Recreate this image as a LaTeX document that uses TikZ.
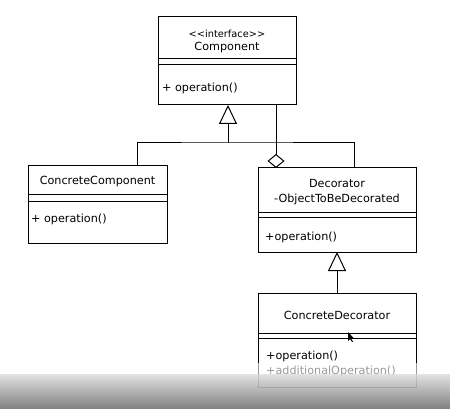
\documentclass[tikz,border=0pt]{standalone}
\usepackage{fontspec}
\setmainfont{DejaVu Sans}
\usetikzlibrary{arrows.meta}
\tikzset{
    classbox/.style={draw, line width=1pt, inner sep=0pt, outer sep=0pt, fill=white},
    txt/.style={font=\fontsize{11.2}{13}\selectfont, inner sep=0pt},
    stereo/.style={font=\fontsize{9.8}{11}\selectfont, inner sep=0pt},
    gen/.style={line width=1pt, -{Triangle[open, length=19pt, width=18pt, line width=1pt]}},
    agg/.style={line width=1pt, -{Diamond[open, length=14pt, width=17pt, line width=1pt]}}
}
\begin{document}
\begin{tikzpicture}[x=1pt, y=-1pt]
    \useasboundingbox[fill=white] (0,0) rectangle (450,409);

    % Component (interface)
    \node[classbox, minimum width=138, minimum height=88] (comp) at (227,61) {};
    \draw[line width=1pt] ([yshift=-42pt]comp.north west) -- ([yshift=-42pt]comp.north east);
    \draw[line width=1pt] ([yshift=-48pt]comp.north west) -- ([yshift=-48pt]comp.north east);
    \node[stereo] (compstereo) at (227,34) {{<}{<}interface{>}{>}};
    \node[txt] (compname) at (227,48) {Component};
    \node[txt, anchor=west] (compop) at (162,88) {+ operation()};

    % ConcreteComponent
    \node[classbox, minimum width=139, minimum height=77] (ccomp) at (97.5,204.5) {};
    \draw[line width=1pt] ([yshift=-29pt]ccomp.north west) -- ([yshift=-29pt]ccomp.north east);
    \draw[line width=1pt] ([yshift=-35pt]ccomp.north west) -- ([yshift=-35pt]ccomp.north east);
    \node[txt] (ccompname) at (97.5,182) {ConcreteComponent};
    \node[txt, anchor=west] (ccompop) at (31,219) {+ operation()};

    % Decorator
    \node[classbox, minimum width=158, minimum height=84] (deco) at (337,210) {};
    \draw[line width=1pt] ([yshift=-44pt]deco.north west) -- ([yshift=-44pt]deco.north east);
    \draw[line width=1pt] ([yshift=-49pt]deco.north west) -- ([yshift=-49pt]deco.north east);
    \node[txt] (deconame) at (337,183) {Decorator};
    \node[txt] (decoattr) at (337,199) {-ObjectToBeDecorated};
    \node[txt, anchor=west] (decoop) at (265,237) {+operation()};

    % ConcreteDecorator
    \node[classbox, minimum width=158, minimum height=94] (cdeco) at (337,340) {};
    \draw[line width=1pt] ([yshift=-40pt]cdeco.north west) -- ([yshift=-40pt]cdeco.north east);
    \draw[line width=1pt] ([yshift=-45pt]cdeco.north west) -- ([yshift=-45pt]cdeco.north east);
    \node[txt] (cdeconame) at (337,315) {ConcreteDecorator};
    \node[txt, anchor=west] (cdecoop) at (266,356) {+operation()};
    \node[txt, anchor=west] (cdecoadd) at (266,371) {+additionalOperation()};

    % inheritance from Component
    \coordinate (join) at (228,143);
    \draw[gen] (join) -- (join |- comp.south);
    \draw[line width=1pt] ([xshift=-30pt]ccomp.north east) |- (join) -| ([xshift=-62pt]deco.north east);

    % aggregation of Component in Decorator
    \coordinate (aggx) at (276,0);
    \draw[agg] (aggx |- comp.south) -- (aggx |- deco.north);

    % inheritance from Decorator
    \draw[gen] (cdeco.north) -- (deco.south);

    % mouse pointer
    \fill[black] (348,332) -- (348,341) -- (350,339) -- (352,342) -- (353,341.5) -- (351,338.5) -- (354,338.5) -- cycle;

    % player overlay at the bottom
    \fill[white, opacity=0.6] (0,363) rectangle (450,374);
    \shade[top color=black!12, bottom color=black!55, opacity=0.9] (0,374) rectangle (450,409);
\end{tikzpicture}
\end{document}
